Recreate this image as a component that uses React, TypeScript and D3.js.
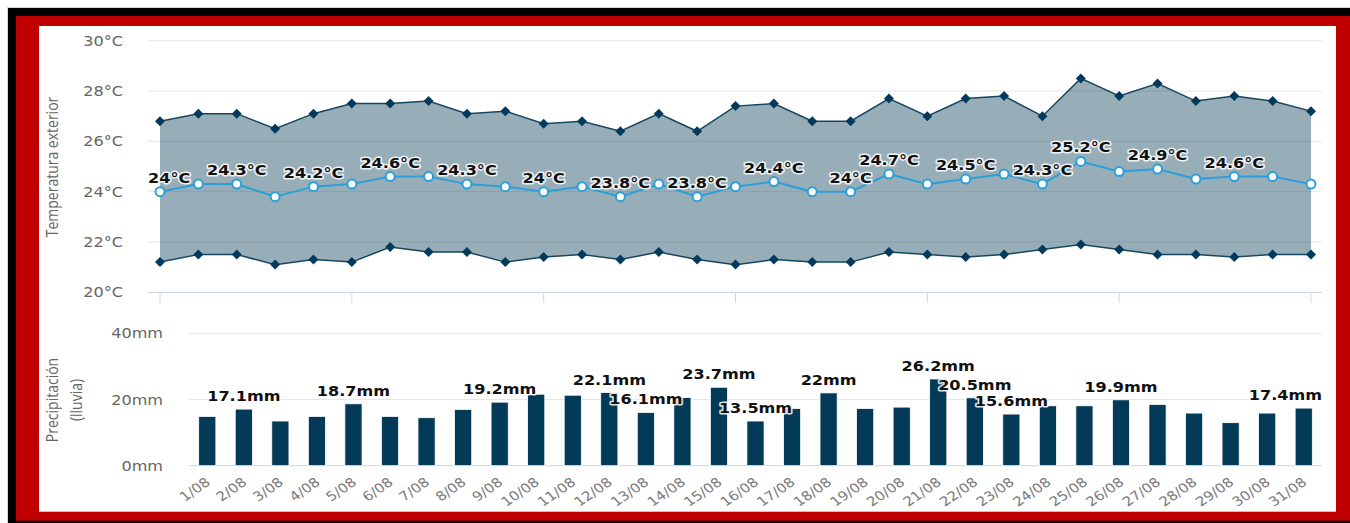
import * as d3 from "d3";

// daily values, August
const dayLabels = [
  "1/08", "2/08", "3/08", "4/08", "5/08", "6/08", "7/08", "8/08", "9/08", "10/08",
  "11/08", "12/08", "13/08", "14/08", "15/08", "16/08", "17/08", "18/08", "19/08", "20/08",
  "21/08", "22/08", "23/08", "24/08", "25/08", "26/08", "27/08", "28/08", "29/08", "30/08", "31/08",
];
const tempMax = [26.8, 27.1, 27.1, 26.5, 27.1, 27.5, 27.5, 27.6, 27.1, 27.2, 26.7, 26.8, 26.4, 27.1, 26.4, 27.4,
  27.5, 26.8, 26.8, 27.7, 27.0, 27.7, 27.8, 27.0, 28.5, 27.8, 28.3, 27.6, 27.8, 27.6, 27.2];
const tempMin = [21.2, 21.5, 21.5, 21.1, 21.3, 21.2, 21.8, 21.6, 21.6, 21.2, 21.4, 21.5, 21.3, 21.6, 21.3, 21.1,
  21.3, 21.2, 21.2, 21.6, 21.5, 21.4, 21.5, 21.7, 21.9, 21.7, 21.5, 21.5, 21.4, 21.5, 21.5];
const tempAvg = [24.0, 24.3, 24.3, 23.8, 24.2, 24.3, 24.6, 24.6, 24.3, 24.2, 24.0, 24.2, 23.8, 24.3, 23.8, 24.2,
  24.4, 24.0, 24.0, 24.7, 24.3, 24.5, 24.7, 24.3, 25.2, 24.8, 24.9, 24.5, 24.6, 24.6, 24.3];
const rain = [14.9, 17.1, 13.5, 14.9, 18.7, 14.9, 14.5, 17.0, 19.2, 21.6, 21.3, 22.1, 16.1, 20.6, 23.7, 13.5,
  17.3, 22.0, 17.3, 17.7, 26.2, 20.5, 15.6, 18.1, 18.1, 19.9, 18.5, 15.9, 13.0, 15.9, 17.4];
// days whose value label is visible
const avgLabelDays = [1, 3, 5, 7, 9, 11, 13, 15, 17, 19, 20, 22, 24, 25, 27, 29];
const rainLabelDays = [2, 5, 9, 12, 13, 15, 16, 18, 21, 22, 23, 26, 31];
const tempTicks = [20, 22, 24, 26, 28, 30];
const rainTicks = [0, 20, 40];
const tempTickDays = [1, 6, 11, 16, 21, 26, 31];

const SX = 1.15; // the screenshot is stretched a bit horizontally
const labelFont = "bold 14px 'DejaVu Sans'";

let ctx: CanvasRenderingContext2D | null = null;
const textWidth = (s: string, font: string) => {
  if (!ctx) ctx = document.createElement("canvas").getContext("2d");
  if (!ctx) return s.length * 8;
  ctx.font = font;
  return ctx.measureText(s).width * SX;
};

const fmt = (v: number) => String(+v.toFixed(1));

const App = () => {
  const W = 1350, H = 523;

  // top panel
  const tLeft = 148, tRight = 1322;
  const xT = d3.scaleLinear().domain([0, 30]).range([160, 1311]);
  const yT = d3.scaleLinear().domain([20, 30]).range([292.3, 40.7]);

  // bottom panel
  const bLeft = 189, bRight = 1322;
  const xB = d3.scaleBand().domain(dayLabels).range([bLeft, bRight]).paddingInner(0).paddingOuter(0);
  const yB = d3.scaleLinear().domain([0, 40]).range([465.7, 333.3]);
  const barW = xB.bandwidth() * 0.47;

  const idx = d3.range(dayLabels.length);
  const area = d3.area<number>().x((i) => xT(i)).y0((i) => yT(tempMin[i])).y1((i) => yT(tempMax[i]));
  const lineOf = (arr: number[]) => d3.line<number>().x((i) => xT(i)).y((i) => yT(arr[i]))(idx) || "";
  const diamond = (x: number, y: number, r: number) => `M${x},${y - r}L${x + r},${y}L${x},${y + r}L${x - r},${y}Z`;

  const axisColor = "#666666";
  const sty = (x: number, y: number, extra = "") => `translate(${x},${y}) scale(${SX},1)${extra}`;

  const clampX = (cx: number, w: number, lo: number, hi: number) => Math.max(lo + w / 2, Math.min(hi - w / 2, cx));

  return (
    <svg width={W} height={H} style={{ position: "absolute", left: 0, top: 0 }}>
      {/* frame */}
      <rect x={0} y={0} width={W} height={H} fill="#ffffff" />
      <rect x={7} y={7} width={W - 7} height={H - 7} fill="#d4d4d4" />
      <rect x={8} y={8} width={W - 8} height={H - 8} fill="#000000" />
      <rect x={16} y={16} width={W - 16} height={504.7} fill="#c00000" />
      <rect x={39} y={26} width={1297} height={485.7} fill="#ffffff" />

      {/* temperature grid */}
      {tempTicks.map((t) => (
        <g key={"tg" + t}>
          {t > 20 && <line x1={tLeft} x2={tRight} y1={yT(t)} y2={yT(t)} stroke="#e6e6e6" />}
          <text transform={sty(123, yT(t) + 5)} textAnchor="end" fontFamily="DejaVu Sans" fontSize={14} fill={axisColor}>
            {t}°C
          </text>
        </g>
      ))}

      {/* range area */}
      <path d={area(idx) || ""} fill="#023a55" fillOpacity={0.41} />
      <path d={lineOf(tempMax)} fill="none" stroke="#16465f" strokeWidth={1.5} />
      <path d={lineOf(tempMin)} fill="none" stroke="#16465f" strokeWidth={1.5} />
      {idx.map((i) => (
        <g key={"d" + i}>
          <path d={diamond(xT(i), yT(tempMax[i]), 5)} fill="#03395a" />
          <path d={diamond(xT(i), yT(tempMin[i]), 5)} fill="#03395a" />
        </g>
      ))}

      {/* x axis of top panel */}
      <line x1={tLeft} x2={tRight} y1={292.5} y2={292.5} stroke="#ccd6eb" />
      {tempTickDays.map((d) => (
        <line key={"tt" + d} x1={xT(d - 1)} x2={xT(d - 1)} y1={292.5} y2={303} stroke="#ccd6eb" />
      ))}

      {/* average line */}
      <path d={lineOf(tempAvg)} fill="none" stroke="#2a9fd8" strokeWidth={2} />
      {idx.map((i) => (
        <circle key={"c" + i} cx={xT(i)} cy={yT(tempAvg[i])} r={4.5} fill="#ffffff" stroke="#2a9fd8" strokeWidth={2} />
      ))}
      {avgLabelDays.map((d) => {
        const i = d - 1;
        const s = `${fmt(tempAvg[i])}°C`;
        const w = textWidth(s, labelFont);
        const cx = clampX(xT(i), w, tLeft, tRight);
        return (
          <text key={"al" + d} transform={sty(cx, yT(tempAvg[i]) - 9)} textAnchor="middle" fontFamily="DejaVu Sans"
            fontWeight="bold" fontSize={14} fill="#111111" stroke="#ffffff" strokeWidth={3} strokeLinejoin="round"
            paintOrder="stroke" strokeOpacity={0.85}>
            {s}
          </text>
        );
      })}

      <text transform={sty(58, 167, " rotate(-90)")} textAnchor="middle" fontFamily="Open Sans" fontSize={14} fill={axisColor}>
        Temperatura exterior
      </text>

      {/* rain panel */}
      {rainTicks.map((t) => (
        <g key={"rg" + t}>
          <line x1={bLeft} x2={bRight} y1={yB(t)} y2={yB(t)} stroke={t === 0 ? "#ccd6eb" : "#e6e6e6"} />
          <text transform={sty(163, yB(t) + 5)} textAnchor="end" fontFamily="DejaVu Sans" fontSize={14} fill={axisColor}>
            {t}mm
          </text>
        </g>
      ))}
      {dayLabels.map((lab, i) => {
        const cx = (xB(lab) || 0) + xB.bandwidth() / 2;
        return (
          <rect key={"b" + i} x={cx - barW / 2} y={yB(rain[i])} width={barW} height={yB(0) - yB(rain[i])}
            fill="#033a57" stroke="#ffffff" strokeWidth={0.8} />
        );
      })}
      {rainLabelDays.map((d) => {
        const i = d - 1;
        const s = `${fmt(rain[i])}mm`;
        const w = textWidth(s, labelFont);
        const cx = clampX((xB(dayLabels[i]) || 0) + xB.bandwidth() / 2, w, bLeft, bRight);
        return (
          <text key={"rl" + d} transform={sty(cx, yB(rain[i]) - 8)} textAnchor="middle" fontFamily="DejaVu Sans"
            fontWeight="bold" fontSize={14} fill="#111111" stroke="#ffffff" strokeWidth={3} strokeLinejoin="round"
            paintOrder="stroke" strokeOpacity={0.85}>
            {s}
          </text>
        );
      })}
      {dayLabels.map((lab) => {
        const cx = (xB(lab) || 0) + xB.bandwidth() / 2;
        return (
          <text key={"xl" + lab} transform={sty(cx + 4, 484, " rotate(-38)")} textAnchor="end" fontFamily="DejaVu Sans"
            fontSize={13} fill="#7a7a7a">
            {lab}
          </text>
        );
      })}

      <text transform={sty(58, 400, " rotate(-90)")} textAnchor="middle" fontFamily="Open Sans" fontSize={14} fill={axisColor}>
        Precipitación
      </text>
      <text transform={sty(82, 400, " rotate(-90)")} textAnchor="middle" fontFamily="Open Sans" fontSize={14} fill={axisColor}>
        (lluvia)
      </text>
    </svg>
  );
};

export default App;
